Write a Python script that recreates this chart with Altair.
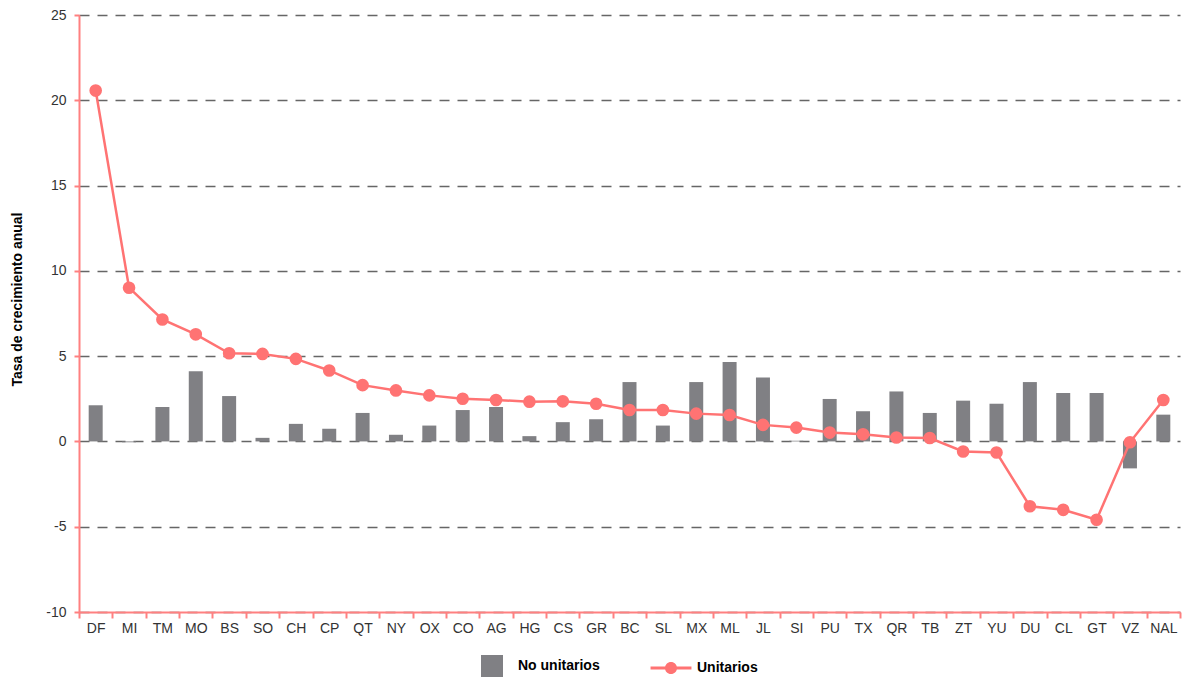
import altair as alt
import pandas as pd

estados = ["DF", "MI", "TM", "MO", "BS", "SO", "CH", "CP", "QT", "NY", "OX", "CO", "AG",
           "HG", "CS", "GR", "BC", "SL", "MX", "ML", "JL", "SI", "PU", "TX", "QR", "TB",
           "ZT", "YU", "DU", "CL", "GT", "VZ", "NAL"]
no_unitarios = [2.12, -0.05, 2.02, 4.12, 2.66, 0.21, 1.03, 0.75, 1.67, 0.39, 0.93, 1.84, 2.02,
                0.31, 1.13, 1.30, 3.48, 0.93, 3.48, 4.66, 3.75, 0.04, 2.49, 1.77, 2.93, 1.67,
                2.39, 2.21, 3.48, 2.84, 2.84, -1.58, 1.57]
unitarios = [20.57, 9.01, 7.15, 6.28, 5.17, 5.13, 4.84, 4.16, 3.30, 2.99, 2.70, 2.50, 2.43,
             2.33, 2.35, 2.21, 1.84, 1.84, 1.63, 1.55, 0.97, 0.81, 0.52, 0.42, 0.23, 0.20,
             -0.59, -0.65, -3.80, -4.01, -4.59, -0.05, 2.43]
series = ["No unitarios", "Unitarios"]
colores = ["#808084", "#FF7373"]
y_ticks = [-10, -5, 0, 5, 10, 15, 20, 25]

df = pd.DataFrame({"estado": estados, "no_unitarios": no_unitarios, "unitarios": unitarios})

FONT = "Liberation Sans"
AXIS_RED = "#FF8080"

line_symbol = ("M-1.86,-0.14L-0.5,-0.14L-0.5,0.14L-1.86,0.14Z"
               "M0.5,-0.14L1.86,-0.14L1.86,0.14L0.5,0.14Z"
               "M-0.55,0A0.55,0.55,0,1,1,0.55,0A0.55,0.55,0,1,1,-0.55,0Z")

def make_legend():
    return alt.Legend(
        orient="none", legendX=402, legendY=640, direction="horizontal", title=None,
        symbolSize=484, symbolStrokeWidth=0, symbolOpacity=1,
        labelFont=FONT, labelFontSize=14, labelFontWeight="bold", labelColor="#000",
        labelOffset=15, columnPadding=50, padding=0,
    )

x_enc = alt.X(
    "estado:N", sort=estados,
    scale=alt.Scale(paddingInner=0, paddingOuter=0),
    axis=alt.Axis(title=None, labelAngle=0, tickBand="extent", domainColor=AXIS_RED,
                  domainWidth=2, tickColor=AXIS_RED, tickWidth=2, tickSize=6,
                  labelPadding=3, labelFont=FONT, labelFontSize=14, labelColor="#333",
                  grid=False),
)
y_scale = alt.Scale(domain=[-10, 25], nice=False)
color_scale = alt.Scale(domain=series, range=colores)
shape_scale = alt.Scale(domain=series, range=["square", line_symbol])

base = alt.Chart(df).encode(x=x_enc)

bars = base.mark_bar(size=14).transform_calculate(serie="'No unitarios'").encode(
    y=alt.Y("no_unitarios:Q", scale=y_scale,
            axis=alt.Axis(values=y_ticks, labelExpr="datum.value + ''",
                          title="Tasa de crecimiento anual",
                          grid=True, gridDash=[10, 8], gridColor="#666", gridWidth=1.5,
                          domainColor=AXIS_RED, domainWidth=2, tickColor=AXIS_RED,
                          tickWidth=2, tickSize=5, labelPadding=8, labelFont=FONT,
                          labelFontSize=14, labelColor="#333", titleFont=FONT,
                          titleFontSize=14, titleFontWeight="bold", titleColor="#000",
                          titleX=-55, titleY=284, titleAngle=270)),
    color=alt.Color("serie:N", scale=color_scale, legend=make_legend()),
)

line = base.mark_line(color="#FF7373", strokeWidth=2.5).encode(
    y=alt.Y("unitarios:Q", scale=y_scale),
)

points = base.mark_circle(size=160, opacity=1, color="#FF7373").encode(
    y=alt.Y("unitarios:Q", scale=y_scale),
)

# invisible layer that only feeds the legend (colour + symbol shape)
legend_layer = base.mark_point(filled=True, opacity=0).transform_calculate(
    serie="'Unitarios'").encode(
    y=alt.Y("unitarios:Q", scale=y_scale),
    color=alt.Color("serie:N", scale=color_scale, legend=make_legend()),
    shape=alt.Shape("serie:N", scale=shape_scale, legend=make_legend()),
)

chart = alt.layer(bars, line, points, legend_layer).properties(
    width=1101, height=597,
    autosize=alt.AutoSizeParams(type="none"),
    padding={"left": 71, "top": 7, "right": 4, "bottom": 65},
).configure_view(strokeWidth=0)

chart.save("out.html", embed_options={"renderer": "svg", "actions": False})
